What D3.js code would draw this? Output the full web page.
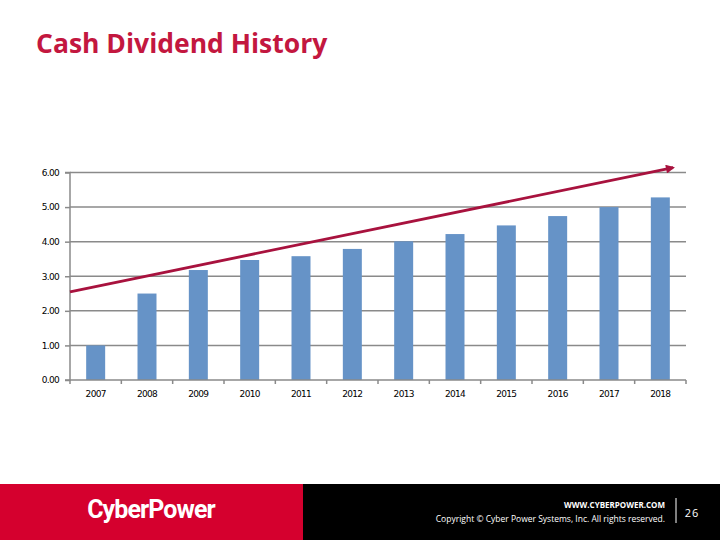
<!DOCTYPE html>
<html><head><meta charset="utf-8">
<script src="https://cdn.jsdelivr.net/npm/d3@7"></script>
<style>body{margin:0;background:#fff}svg{display:block}</style>
</head><body>
<svg id="c" width="720" height="540"></svg>
<script>
const years = ["2007","2008","2009","2010","2011","2012","2013","2014","2015","2016","2017","2018"];
const dividends = [1.00, 2.50, 3.18, 3.47, 3.58, 3.79, 4.01, 4.22, 4.47, 4.74, 5.00, 5.28];
const yTicks = [0, 1, 2, 3, 4, 5, 6];
// trend arrow: position in category units (0 = left edge of plot) and value
const trendPos = [0, 11.75];
const trendVal = [2.55, 6.14];

const svg = d3.select("#c");
const m = {l:70, r:686, t:172.5, b:380};

const x = d3.scaleBand().domain(years).range([m.l, m.r]).paddingInner(0.63).paddingOuter(0.315);
const xc = d3.scaleLinear().domain([0, years.length]).range([m.l, m.r]);
const y = d3.scaleLinear().domain([0, 6]).range([m.b, m.t]);

// title
svg.append("text").attr("x",36).attr("y",53)
  .attr("font-family","'Open Sans', 'Noto Sans', sans-serif").attr("font-weight","bold")
  .attr("font-size",26.5).attr("fill","#C3173F").text("Cash Dividend History");

// gridlines
svg.append("g").selectAll("line").data(yTicks.filter(d=>d>0)).join("line")
  .attr("x1",m.l).attr("x2",m.r).attr("y1",d=>y(d)).attr("y2",d=>y(d))
  .attr("stroke","#8a8a8a").attr("stroke-width",1.5);

// y axis
const ya = svg.append("g").attr("transform",`translate(${m.l},0)`)
  .call(d3.axisLeft(y).tickValues(yTicks).tickFormat(d3.format(".2f")).tickSize(5).tickPadding(6));
ya.select(".domain").attr("stroke","#8a8a8a").attr("stroke-width",1.5).attr("d",`M-5,${y(0)}H0V${y(6)}H-5`);
ya.selectAll(".tick line").attr("stroke","#8a8a8a").attr("stroke-width",1.5);
ya.selectAll("text").attr("font-family","'DejaVu Sans', sans-serif").attr("font-size",9)
  .attr("letter-spacing",-0.7).attr("fill","#000");

// bars
svg.append("g").selectAll("rect").data(dividends).join("rect")
  .attr("x",(d,i)=>x(years[i])).attr("width",x.bandwidth())
  .attr("y",d=>y(d)).attr("height",d=>y(0)-y(d)).attr("fill","#6693C7");

// x axis
const xa = svg.append("g").attr("transform",`translate(0,${m.b})`);
xa.append("line").attr("x1",m.l).attr("x2",m.r).attr("stroke","#8a8a8a").attr("stroke-width",1.5);
xa.selectAll("line.t").data(d3.range(years.length+1)).join("line").attr("class","t")
  .attr("x1",d=>xc(d)).attr("x2",d=>xc(d)).attr("y1",0).attr("y2",4)
  .attr("stroke","#8a8a8a").attr("stroke-width",1.5);
xa.selectAll("text").data(years).join("text")
  .attr("x",d=>x(d)+x.bandwidth()/2).attr("y",17).attr("text-anchor","middle")
  .attr("font-family","'DejaVu Sans', sans-serif").attr("font-size",9).attr("letter-spacing",-0.7)
  .attr("fill","#000").text(d=>d);

// trend arrow
const defs = svg.append("defs");
defs.append("marker").attr("id","ah").attr("viewBox","0 0 10 10").attr("refX",8).attr("refY",5)
  .attr("markerWidth",3.6).attr("markerHeight",3.2).attr("orient","auto")
  .append("path").attr("d","M0,0L10,5L0,10z").attr("fill","#A8123E");
svg.append("line")
  .attr("x1",xc(trendPos[0])).attr("y1",y(trendVal[0]))
  .attr("x2",xc(trendPos[1])).attr("y2",y(trendVal[1]))
  .attr("stroke","#A8123E").attr("stroke-width",2.8).attr("marker-end","url(#ah)");

// footer
svg.append("rect").attr("x",0).attr("y",484).attr("width",303).attr("height",56).attr("fill","#D5002E");
svg.append("rect").attr("x",303).attr("y",484).attr("width",417).attr("height",56).attr("fill","#000");
svg.append("text").attr("x",151).attr("y",518).attr("text-anchor","middle")
  .attr("font-family","'Roboto', 'Open Sans', sans-serif").attr("font-weight","bold")
  .attr("font-size",25).attr("letter-spacing",-0.9).attr("fill","#fff").text("CyberPower");
svg.append("text").attr("x",665).attr("y",508).attr("text-anchor","end")
  .attr("font-family","'Open Sans', sans-serif").attr("font-size",8).attr("font-weight","bold")
  .attr("fill","#fff").text("WWW.CYBERPOWER.COM");
svg.append("text").attr("x",665).attr("y",522).attr("text-anchor","end")
  .attr("font-family","'Open Sans', sans-serif").attr("font-size",8.5)
  .attr("fill","#fff").text("Copyright © Cyber Power Systems, Inc. All rights reserved.");
svg.append("line").attr("x1",676).attr("x2",676).attr("y1",498).attr("y2",523)
  .attr("stroke","#fff").attr("stroke-width",1);
svg.append("text").attr("x",692).attr("y",517).attr("text-anchor","middle")
  .attr("font-family","'Open Sans', sans-serif").attr("font-size",11).attr("letter-spacing",1)
  .attr("fill","#fff").text("26");
</script>
</body></html>
